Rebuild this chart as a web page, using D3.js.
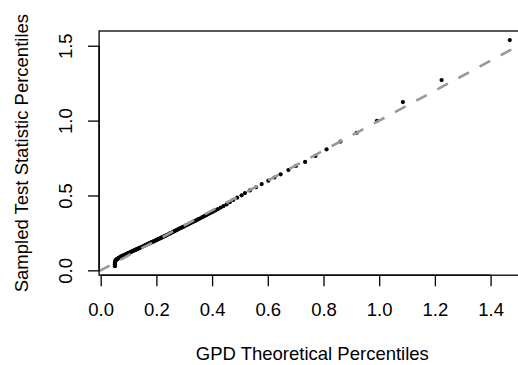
<!DOCTYPE html>
<html>
<head>
<meta charset="utf-8">
<script src="https://cdn.jsdelivr.net/npm/d3@7"></script>
<style>
  html, body { margin: 0; padding: 0; background: #fff; }
  svg { display: block; font-family: "Liberation Sans", Arial, Helvetica, sans-serif; }
</style>
</head>
<body>
<svg id="chart" width="518" height="365"></svg>
<script>
// GPD theoretical percentiles (x) against sampled test statistic percentiles (y)
const theoretical = [
  0.051, 0.051, 0.051, 0.052, 0.053, 0.054, 0.056, 0.058, 0.060, 0.062,
  0.064, 0.066, 0.069, 0.071, 0.073, 0.075, 0.078, 0.080, 0.082, 0.085,
  0.087, 0.089, 0.092, 0.094, 0.097, 0.099, 0.102, 0.104, 0.107, 0.109,
  0.112, 0.114, 0.117, 0.120, 0.122, 0.125, 0.128, 0.130, 0.133, 0.136,
  0.139, 0.141, 0.144, 0.147, 0.150, 0.153, 0.156, 0.159, 0.162, 0.165,
  0.168, 0.171, 0.174, 0.177, 0.180, 0.183, 0.187, 0.190, 0.193, 0.196,
  0.200, 0.203, 0.206, 0.210, 0.213, 0.217, 0.220, 0.224, 0.228, 0.231,
  0.235, 0.239, 0.243, 0.247, 0.251, 0.255, 0.259, 0.263, 0.267, 0.272,
  0.276, 0.281, 0.285, 0.290, 0.295, 0.300, 0.305, 0.310, 0.316, 0.321,
  0.327, 0.333, 0.339, 0.345, 0.351, 0.358, 0.365, 0.372, 0.379, 0.387,
  0.395, 0.403, 0.412, 0.421, 0.431, 0.441, 0.452, 0.464, 0.476, 0.490,
  0.506, 0.518, 0.536, 0.558, 0.578, 0.602, 0.624, 0.646, 0.674, 0.701,
  0.734, 0.771, 0.811, 0.861, 0.919, 0.992, 1.085, 1.224, 1.469
];
const sampled = [
  0.028, 0.040, 0.050, 0.058, 0.063, 0.067, 0.071, 0.074, 0.077, 0.079,
  0.082, 0.084, 0.087, 0.089, 0.091, 0.093, 0.096, 0.098, 0.100, 0.102,
  0.104, 0.106, 0.109, 0.111, 0.113, 0.115, 0.117, 0.119, 0.122, 0.124,
  0.126, 0.128, 0.131, 0.133, 0.135, 0.137, 0.140, 0.142, 0.144, 0.147,
  0.149, 0.151, 0.154, 0.156, 0.159, 0.161, 0.164, 0.167, 0.169, 0.172,
  0.174, 0.177, 0.180, 0.182, 0.185, 0.188, 0.191, 0.193, 0.196, 0.199,
  0.202, 0.205, 0.208, 0.211, 0.214, 0.217, 0.220, 0.223, 0.227, 0.230,
  0.233, 0.237, 0.241, 0.245, 0.248, 0.252, 0.256, 0.260, 0.264, 0.268,
  0.272, 0.277, 0.281, 0.285, 0.289, 0.294, 0.299, 0.303, 0.309, 0.314,
  0.319, 0.325, 0.330, 0.336, 0.342, 0.348, 0.355, 0.362, 0.368, 0.376,
  0.384, 0.391, 0.400, 0.409, 0.419, 0.429, 0.440, 0.456, 0.470, 0.485,
  0.501, 0.516, 0.534, 0.555, 0.576, 0.599, 0.620, 0.641, 0.670, 0.697,
  0.724, 0.764, 0.808, 0.860, 0.919, 0.999, 1.124, 1.271, 1.538
];
const xTicks = [0.0, 0.2, 0.4, 0.6, 0.8, 1.0, 1.2, 1.4];
const yTicks = [0.0, 0.5, 1.0, 1.5];
const xTitle = "GPD Theoretical Percentiles";
const yTitle = "Sampled Test Statistic Percentiles";
// reference line y = a + b x
const refLine = { intercept: 0, slope: 1 };

const svg = d3.select("#chart");
const plot = { left: 99.1, right: 525.6, top: 31, bottom: 275.2 };
const fontSize = 18.5;
const lineH = 22.2;          // one margin line
const tickLen = 0.5 * lineH;

// pad the data range by 4% on each side
function padded(values) {
  const [lo, hi] = d3.extent(values);
  const p = (hi - lo) * 0.04;
  return [lo - p, hi + p];
}
const x = d3.scaleLinear().domain(padded(theoretical)).range([plot.left, plot.right]);
const y = d3.scaleLinear().domain(padded(sampled)).range([plot.bottom, plot.top]);

const points = theoretical.map((t, i) => ({ t, s: sampled[i] }));

// clip to the plotting region
svg.append("defs").append("clipPath").attr("id", "plotArea")
  .append("rect")
  .attr("x", plot.left).attr("y", plot.top)
  .attr("width", plot.right - plot.left).attr("height", plot.bottom - plot.top);

const inner = svg.append("g").attr("clip-path", "url(#plotArea)");

inner.append("g").selectAll("circle")
  .data(points)
  .join("circle")
  .attr("cx", d => x(d.t))
  .attr("cy", d => y(d.s))
  .attr("r", 2.1)
  .attr("fill", "#000");

// dashed reference line across the full x domain
const [dx0, dx1] = x.domain();
inner.append("line")
  .attr("x1", x(dx0)).attr("y1", y(refLine.intercept + refLine.slope * dx0))
  .attr("x2", x(dx1)).attr("y2", y(refLine.intercept + refLine.slope * dx1))
  .attr("stroke", "#999999")
  .attr("stroke-width", 2.6)
  .attr("stroke-dasharray", "12,12");

// plot frame
svg.append("rect")
  .attr("x", plot.left).attr("y", plot.top)
  .attr("width", plot.right - plot.left).attr("height", plot.bottom - plot.top)
  .attr("fill", "none").attr("stroke", "#000").attr("stroke-width", 1.3);

const fontFamily = '"Liberation Sans", Arial, Helvetica, sans-serif';

// x axis: labels on margin line 1
const gx = svg.append("g")
  .attr("transform", `translate(0,${plot.bottom})`)
  .call(d3.axisBottom(x).tickValues(xTicks).tickFormat(d3.format(".1f"))
    .tickSize(tickLen).tickPadding(0));
gx.select(".domain").remove();
gx.append("line")
  .attr("x1", x(xTicks[0])).attr("x2", x(xTicks[xTicks.length - 1]))
  .attr("stroke", "#000").attr("stroke-width", 1.3);
gx.selectAll(".tick line").attr("stroke", "#000").attr("stroke-width", 1.3);
gx.selectAll(".tick text")
  .attr("y", 1.85 * lineH).attr("dy", null)
  .attr("fill", "#000")
  .style("font-size", fontSize + "px")
  .style("font-family", fontFamily);

// y axis: labels parallel to the axis on margin line 1
const gy = svg.append("g")
  .attr("transform", `translate(${plot.left},0)`)
  .call(d3.axisLeft(y).tickValues(yTicks).tickFormat(d3.format(".1f"))
    .tickSize(tickLen).tickPadding(0));
gy.select(".domain").remove();
gy.append("line")
  .attr("y1", y(yTicks[0])).attr("y2", y(yTicks[yTicks.length - 1]))
  .attr("stroke", "#000").attr("stroke-width", 1.3);
gy.selectAll(".tick line").attr("stroke", "#000").attr("stroke-width", 1.3);
gy.selectAll(".tick text")
  .attr("x", null).attr("dy", null)
  .attr("transform", `translate(${-1.2 * lineH},0) rotate(-90)`)
  .attr("text-anchor", "middle")
  .attr("fill", "#000")
  .style("font-size", fontSize + "px")
  .style("font-family", fontFamily);

// axis titles on margin line 3
svg.append("text")
  .attr("x", (plot.left + plot.right) / 2)
  .attr("y", plot.bottom + 3.8 * lineH)
  .attr("text-anchor", "middle")
  .style("font-size", fontSize + "px")
  .attr("fill", "#000")
  .text(xTitle);

svg.append("text")
  .attr("transform", `translate(${plot.left - 3.2 * lineH},${(plot.top + plot.bottom) / 2}) rotate(-90)`)
  .attr("text-anchor", "middle")
  .style("font-size", fontSize + "px")
  .attr("fill", "#000")
  .text(yTitle);
</script>
</body>
</html>
